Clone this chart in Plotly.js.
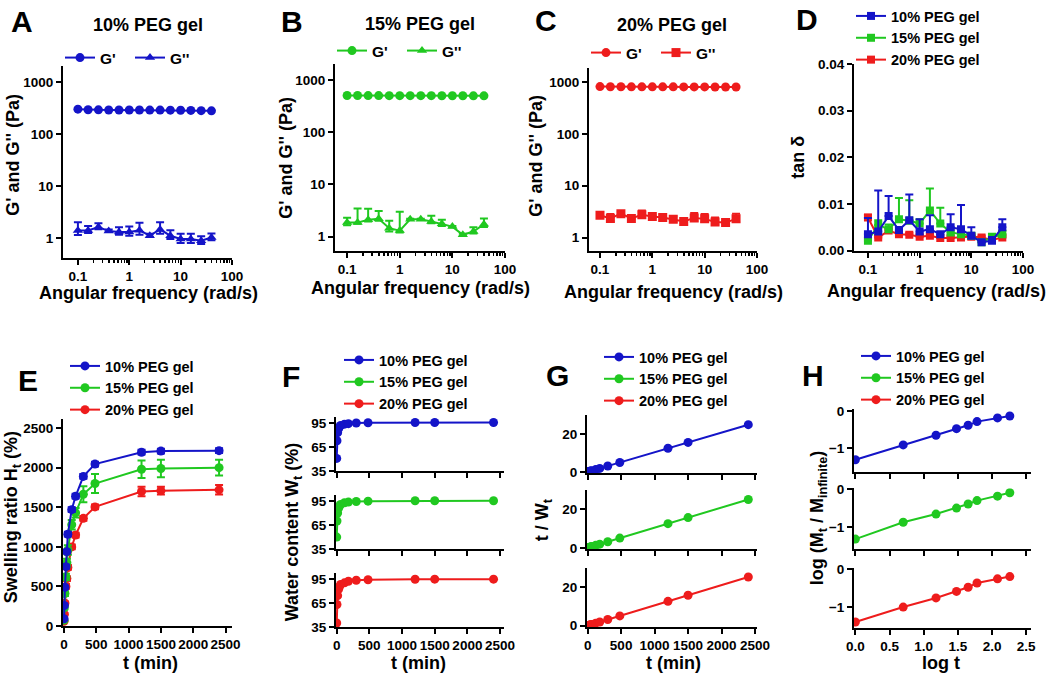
<!DOCTYPE html>
<html><head><meta charset="utf-8">
<script src="https://cdn.plot.ly/plotly-3.0.1.min.js"></script>
<style>html,body{margin:0;padding:0;background:#fff}#chart{width:1050px;height:676px}</style>
</head><body><div id="chart"></div>
<script>
// ---------- data ----------
const freq = [0.1, 0.158, 0.251, 0.398, 0.631, 1, 1.58, 2.51, 3.98, 6.31, 10, 15.8, 25.1, 39.8];
const freqTicks = [0.1, 1, 10, 100];
const freqTickText = ['0.1', '1', '10', '100'];
const modTicks = [1, 10, 100, 1000];
const modTickText = ['1', '10', '100', '1000'];

const gp10 = [300, 292, 291, 290, 290, 289, 289, 288, 288, 287, 286, 284, 281, 279];
const gpp10 = [1.39, 1.39, 1.62, 1.35, 1.3, 1.3, 1.4, 1.1, 1.45, 1.1, 0.95, 0.95, 0.88, 1.02];
const gpp10Up = [0.6, 0.3, 0.3, 0.1, 0.3, 0.35, 0.55, 0.1, 0.55, 0.3, 0.25, 0.25, 0.2, 0.2];
const gpp10Dn = [0.25, 0.15, 0.15, 0.05, 0.15, 0.2, 0.25, 0.05, 0.25, 0.15, 0.15, 0.15, 0.12, 0.12];

const gp15 = [505, 505, 504, 504, 503, 503, 503, 502, 502, 501, 500, 500, 499, 498];
const gpp15 = [1.85, 1.85, 2.1, 2.2, 1.45, 1.3, 2.15, 2.15, 1.95, 1.75, 1.55, 1.08, 1.25, 1.72];
const gpp15Up = [0.45, 1.6, 1.3, 0.9, 0.55, 1.7, 0.05, 0.05, 0.55, 0.35, 0.05, 0.05, 0.25, 0.5];
const gpp15Dn = [0.2, 0.1, 0.15, 0.2, 0.2, 0.1, 0.05, 0.05, 0.15, 0.15, 0.05, 0.05, 0.1, 0.2];

const gp20 = [812, 808, 806, 805, 805, 804, 803, 803, 802, 802, 801, 800, 800, 799];
const gpp20 = [2.7, 2.35, 2.9, 2.35, 2.75, 2.55, 2.45, 2.25, 2.05, 2.4, 2.3, 2.0, 1.95, 2.3];
const gpp20Up = [0.2, 0.5, 0.25, 0.1, 0.6, 0.15, 0.35, 0.3, 0.15, 0.6, 0.55, 0.45, 0.15, 0.6];
const gpp20Dn = [0.2, 0.3, 0.15, 0.1, 0.3, 0.15, 0.25, 0.25, 0.15, 0.3, 0.3, 0.25, 0.1, 0.3];

const tan10 = [0.0035, 0.0041, 0.0074, 0.0044, 0.0065, 0.0041, 0.0046, 0.0035, 0.005, 0.0046, 0.0032, 0.0018, 0.0021, 0.005];
const tan10Up = [0.0035, 0.0088, 0.0043, 0.0005, 0.0055, 0.0026, 0.003, 0.0005, 0.0028, 0.0052, 0.0018, 0.0004, 0.0008, 0.0017];
const tan15 = [0.0021, 0.0055, 0.0046, 0.0067, 0.0064, 0.0058, 0.0086, 0.0058, 0.0039, 0.0035, 0.0032, 0.0018, 0.0028, 0.0035];
const tan15Up = [0.0004, 0.001, 0.001, 0.0046, 0.0044, 0.0009, 0.0047, 0.0034, 0.001, 0.0008, 0.0005, 0.0004, 0.0008, 0.0008];
const tan20 = [0.0071, 0.0028, 0.0043, 0.0035, 0.0034, 0.003, 0.0032, 0.0027, 0.0027, 0.0028, 0.003, 0.0028, 0.0023, 0.0028];
const tan20Up = [0.0006, 0.0004, 0.0005, 0.0004, 0.0004, 0.0004, 0.0004, 0.0004, 0.0004, 0.0004, 0.0004, 0.0004, 0.0004, 0.0004];

const tMin = [1, 5, 15, 30, 45, 60, 120, 180, 300, 480, 1200, 1500, 2400];
const sw10 = [92, 260, 490, 750, 940, 1160, 1470, 1640, 1890, 2045, 2195, 2210, 2215];
const sw10Err = [10, 15, 20, 25, 25, 30, 30, 30, 30, 30, 30, 30, 30];
const sw15 = [75, 230, 410, 620, 800, 960, 1280, 1430, 1665, 1800, 1980, 1990, 2000];
const sw15Err = [15, 20, 30, 40, 50, 60, 60, 60, 100, 120, 110, 110, 100];
const sw20 = [60, 150, 290, 500, 600, 740, 1000, 1150, 1360, 1505, 1700, 1710, 1720];
const sw20Err = [10, 15, 20, 30, 30, 30, 30, 30, 30, 30, 60, 50, 60];

const wc10 = [51, 73, 83, 88, 90.5, 92, 93.6, 94.2, 95, 95.3, 95.6, 95.7, 95.7];
const wc15 = [50, 70, 80, 86, 89, 90.6, 92.7, 93.5, 94.3, 94.7, 95.2, 95.2, 95.2];
const wc20 = [40, 63, 74, 82, 85.5, 88, 90, 92, 93.2, 93.8, 94.4, 94.5, 94.5];

const tw10 = [0.02, 0.07, 0.18, 0.34, 0.5, 0.65, 1.28, 1.91, 3.16, 5.03, 12.55, 15.67, 25.08];
const tw15 = [0.02, 0.07, 0.19, 0.35, 0.51, 0.66, 1.29, 1.93, 3.18, 5.07, 12.6, 15.76, 25.2];
const tw20 = [0.025, 0.08, 0.2, 0.37, 0.53, 0.68, 1.33, 1.96, 3.22, 5.12, 12.7, 15.87, 25.4];

const logT = [0, 0.7, 1.18, 1.48, 1.65, 1.78, 2.08, 2.26];
const lm10 = [-1.31, -0.91, -0.65, -0.47, -0.38, -0.28, -0.18, -0.13];
const lm15 = [-1.33, -0.88, -0.66, -0.5, -0.39, -0.3, -0.18, -0.09];
const lm20 = [-1.39, -1.0, -0.76, -0.59, -0.48, -0.37, -0.26, -0.2];

const tTicks = [0, 500, 1000, 1500, 2000, 2500];
const swTicks = [0, 500, 1000, 1500, 2000, 2500];
const wcTicks = [35, 65, 95];
const twTicks = [0, 20];
const lmTicks = [-1, 0];
const logTTicks = [0, 0.5, 1, 1.5, 2, 2.5];
const tanTicks = [0, 0.01, 0.02, 0.03, 0.04];

const names = ['10% PEG gel', '15% PEG gel', '20% PEG gel'];

// ---------- styling helpers ----------
const W = 1050, H = 676;
const BLUE = '#1414c8', GREEN = '#20c820', RED = '#ee1c1c';
const FONT = '"Liberation Sans", Arial, sans-serif';
const px = (a, b) => [a / W, b / W];
const py = (top, bot) => [1 - bot / H, 1 - top / H];
const tickFont = {family: FONT, size: 13.5, color: '#000', weight: 'bold'};

function ax(extra) {
  return Object.assign({
    showline: true, linecolor: '#000', linewidth: 2,
    ticks: 'outside', ticklen: 5, tickwidth: 2, tickcolor: '#000',
    showgrid: false, zeroline: false, tickfont: tickFont, tickangle: 0,
    fixedrange: true
  }, extra);
}
const minorLog = [];
[0.1, 1, 10].forEach(d => { for (let k = 2; k <= 9; k++) minorLog.push(d * k); });
function logX(dom, r, anchor) {
  return ax({domain: dom, anchor: anchor, type: 'log', range: r, tickmode: 'array',
    tickvals: freqTicks, ticktext: freqTickText,
    minor: {tickmode: 'array', tickvals: minorLog, ticks: 'outside', ticklen: 3, tickwidth: 1.5, tickcolor: '#000'}});
}
function logY(dom, r, anchor) {
  return ax({domain: dom, anchor: anchor, type: 'log', range: r, tickmode: 'array',
    tickvals: modTicks, ticktext: modTickText});
}

const traces = [];
function line(x, y, xa, ya, color, sym, name, legend, err, size) {
  const t = {x: x, y: y, xaxis: xa, yaxis: ya, type: 'scatter', mode: 'lines+markers',
    name: name, legend: legend, showlegend: true,
    line: {color: color, width: 2},
    marker: {color: color, symbol: sym, size: size || 9, line: {width: 0}}};
  if (err) t.error_y = Object.assign({type: 'data', color: color, thickness: 2, width: 4, visible: true}, err);
  traces.push(t);
}

// A
line(freq, gp10, 'x', 'y', BLUE, 'circle', "G'", 'legend');
line(freq, gpp10, 'x', 'y', BLUE, 'triangle-up', "G''", 'legend', {array: gpp10Up, arrayminus: gpp10Dn, symmetric: false});
// B
line(freq, gp15, 'x2', 'y2', GREEN, 'circle', "G'", 'legend2');
line(freq, gpp15, 'x2', 'y2', GREEN, 'triangle-up', "G''", 'legend2', {array: gpp15Up, arrayminus: gpp15Dn, symmetric: false});
// C
line(freq, gp20, 'x3', 'y3', RED, 'circle', "G'", 'legend3');
line(freq, gpp20, 'x3', 'y3', RED, 'square', "G''", 'legend3', {array: gpp20Up, arrayminus: gpp20Dn, symmetric: false});
// D (draw red, green, blue so blue is on top)
line(freq, tan20, 'x4', 'y4', RED, 'square', names[2], 'legend4', {array: tan20Up, arrayminus: tan20Up.map(() => 0), symmetric: false}, 8);
line(freq, tan15, 'x4', 'y4', GREEN, 'square', names[1], 'legend4', {array: tan15Up, arrayminus: tan15Up.map(() => 0), symmetric: false}, 8);
line(freq, tan10, 'x4', 'y4', BLUE, 'square', names[0], 'legend4', {array: tan10Up, arrayminus: tan10Up.map(() => 0), symmetric: false}, 8);
// E
line(tMin, sw20, 'x5', 'y5', RED, 'circle', names[2], 'legend5', {array: sw20Err});
line(tMin, sw15, 'x5', 'y5', GREEN, 'circle', names[1], 'legend5', {array: sw15Err});
line(tMin, sw10, 'x5', 'y5', BLUE, 'circle', names[0], 'legend5', {array: sw10Err});
// F
line(tMin, wc10, 'x6', 'y6', BLUE, 'circle', names[0], 'legend6');
line(tMin, wc15, 'x7', 'y7', GREEN, 'circle', names[1], 'legend6');
line(tMin, wc20, 'x8', 'y8', RED, 'circle', names[2], 'legend6');
// G
line(tMin, tw10, 'x9', 'y9', BLUE, 'circle', names[0], 'legend7');
line(tMin, tw15, 'x10', 'y10', GREEN, 'circle', names[1], 'legend7');
line(tMin, tw20, 'x11', 'y11', RED, 'circle', names[2], 'legend7');
// H
line(logT, lm10, 'x12', 'y12', BLUE, 'circle', names[0], 'legend8');
line(logT, lm15, 'x13', 'y13', GREEN, 'circle', names[1], 'legend8');
line(logT, lm20, 'x14', 'y14', RED, 'circle', names[2], 'legend8');

// legend ordering (10% first)
traces.forEach(t => { const i = names.indexOf(t.name); if (i >= 0) t.legendrank = 100 + i; });

function leg(x, y, horiz) {
  const l = {x: x / W, y: 1 - y / H, xanchor: 'left', yanchor: 'top', xref: 'paper', yref: 'paper',
    bgcolor: 'rgba(0,0,0,0)', borderwidth: 0, itemwidth: 30, traceorder: 'normal',
    font: {family: FONT, size: horiz ? 15.5 : 14.5, color: '#000', weight: 'bold'}};
  if (horiz) { l.orientation = 'h'; l.entrywidth = 25; l.entrywidthmode = 'pixels'; }
  return l;
}

const layout = {
  width: W, height: H, margin: {l: 0, r: 0, t: 0, b: 0},
  paper_bgcolor: '#fff', plot_bgcolor: 'rgba(0,0,0,0)',
  font: {family: FONT, color: '#000', weight: 'bold'},
  showlegend: true,
  legend: leg(60, 41, true),
  legend2: leg(332, 34, true),
  legend3: leg(586, 36, true),
  legend4: leg(851, -1, false),
  legend5: leg(65, 350, false),
  legend6: leg(339, 344, false),
  legend7: leg(599, 341, false),
  legend8: leg(856, 340, false),

  xaxis: logX(px(63, 232), [-1.29, 2.0], 'y'),
  yaxis: logY(py(65, 257), [-0.38, 3.31], 'x'),
  xaxis2: logX(px(335, 505), [-1.23, 2.0], 'y2'),
  yaxis2: logY(py(63, 250), [-0.27, 3.31], 'x2'),
  xaxis3: logX(px(589, 757), [-1.21, 2.0], 'y3'),
  yaxis3: logY(py(67, 250), [-0.25, 3.27], 'x3'),
  xaxis4: logX(px(854, 1023), [-1.27, 2.0], 'y4'),
  yaxis4: ax({domain: py(63, 250), anchor: 'x4', range: [0, 0.04], tickmode: 'array', tickvals: tanTicks, tickformat: '.2f'}),

  xaxis5: ax({domain: px(63, 232), anchor: 'y5', range: [-15, 2600], tickmode: 'array', tickvals: tTicks}),
  yaxis5: ax({domain: py(419, 626), anchor: 'x5', range: [0, 2610], tickmode: 'array', tickvals: swTicks})
};

const fY = [[417, 471], [495, 549], [573, 627]];
const gY = [[415, 473], [490, 549], [568, 627]];
const hY = [[409, 472], [488, 549], [568, 628]];
const hR = [[-1.65, 0.05], [-1.6, 0.03], [-1.55, 0.02]];
for (let i = 0; i < 3; i++) {
  const nF = 6 + i, nG = 9 + i, nH = 12 + i;
  layout['xaxis' + nF] = ax({domain: px(336, 504), anchor: 'y' + nF, range: [-10, 2560], tickmode: 'array', tickvals: tTicks, showticklabels: i === 2});
  layout['yaxis' + nF] = ax({domain: py(fY[i][0], fY[i][1]), anchor: 'x' + nF, range: [35, 102], tickmode: 'array', tickvals: wcTicks});
  layout['xaxis' + nG] = ax({domain: px(587, 757), anchor: 'y' + nG, range: [-10, 2530], tickmode: 'array', tickvals: tTicks, showticklabels: i === 2});
  layout['yaxis' + nG] = ax({domain: py(gY[i][0], gY[i][1]), anchor: 'x' + nG, range: [-0.7, 30], tickmode: 'array', tickvals: twTicks});
  layout['xaxis' + nH] = ax({domain: px(854, 1031), anchor: 'y' + nH, range: [-0.02, 2.57], tickmode: 'array', tickvals: logTTicks, tickformat: '.1f', showticklabels: i === 2});
  layout['yaxis' + nH] = ax({domain: py(hY[i][0], hY[i][1]), anchor: 'x' + nH, range: hR[i], tickmode: 'array', tickvals: lmTicks});
}

// annotations: panel letters, titles, axis titles
const ann = [];
function txt(text, x, y, size, angle) {
  ann.push({text: text, x: x / W, y: 1 - y / H, xref: 'paper', yref: 'paper', xanchor: 'center', yanchor: 'middle',
    showarrow: false, textangle: angle || 0, font: {family: FONT, size: size, color: '#000', weight: 'bold'}});
}
[['A', 22, 21], ['B', 292, 21], ['C', 546, 20], ['D', 807, 19], ['E', 28, 380], ['F', 291, 376], ['G', 557, 375], ['H', 813, 375]]
  .forEach(p => txt(p[0], p[1], p[2], 30));
txt('10% PEG gel', 148, 24, 18);
txt('15% PEG gel', 420, 23, 18);
txt('20% PEG gel', 672, 24, 18);
txt('Angular frequency (rad/s)', 148, 292, 18);
txt('Angular frequency (rad/s)', 420, 287, 18);
txt('Angular frequency (rad/s)', 673, 291, 18);
txt('Angular frequency (rad/s)', 936, 290, 18);
txt("G' and G'' (Pa)", 13, 154, 18, -90);
txt("G' and G'' (Pa)", 286, 157, 18, -90);
txt("G' and G'' (Pa)", 536, 155, 18, -90);
txt('tan δ', 798, 157, 18, -90);
txt('t (min)', 150, 663, 18);
txt('t (min)', 418, 663, 18);
txt('t (min)', 673, 663, 18);
txt('log t', 941, 663, 18);
txt('Swelling ratio H<sub>t</sub> (%)', 12, 517, 18, -90);
txt('Water content W<sub>t</sub> (%)', 293, 532, 18, -90);
txt('t / W<sub>t</sub>', 543, 520, 18, -90);
txt('log (M<sub>t</sub> / M<sub>infinite</sub>)', 818, 518, 18, -90);
layout.annotations = ann;

Plotly.newPlot('chart', traces, layout, {displayModeBar: false, staticPlot: true});
</script>
</body></html>
